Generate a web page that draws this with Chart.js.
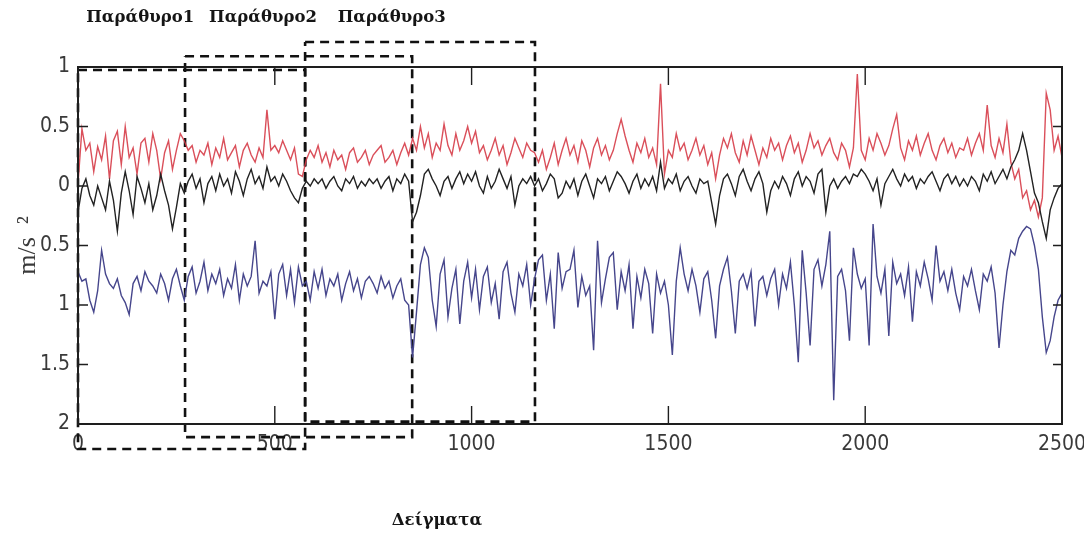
<!DOCTYPE html>
<html>
<head>
<meta charset="utf-8">
<script src="https://cdn.jsdelivr.net/npm/chart.js@4.4.1/dist/chart.umd.min.js"></script>
<style>
  html, body { margin: 0; padding: 0; background: #fff; }
  canvas { display: block; }
</style>
</head>
<body>
<canvas id="chart" width="1084" height="538"></canvas>
<script>
// one value every SAMPLE_STEP samples
const SAMPLE_STEP = 10
const X_TICKS = [0, 500, 1000, 1500, 2000, 2500]
const Y_TICKS = [1, 0.5, 0, -0.5, -1, -1.5, -2]

const RED = [
  0.02, 0.48, 0.30, 0.36, 0.12, 0.33, 0.22, 0.42, 0.06, 0.38, 0.46, 0.18, 0.50, 0.24, 0.32, 0.10, 0.36, 0.40, 0.20, 0.44, 0.30, 0.06, 0.28, 0.38, 0.14,
  0.30, 0.44, 0.38, 0.30, 0.34, 0.20, 0.30, 0.26, 0.36, 0.18, 0.32, 0.24, 0.40, 0.22, 0.28, 0.34, 0.16, 0.30, 0.36, 0.26, 0.20, 0.32, 0.24, 0.64, 0.30,
  0.34, 0.28, 0.38, 0.30, 0.22, 0.32, 0.10, 0.08, 0.22, 0.30, 0.24, 0.34, 0.20, 0.28, 0.16, 0.30, 0.22, 0.26, 0.14, 0.28, 0.32, 0.20, 0.24, 0.30, 0.18,
  0.26, 0.30, 0.34, 0.20, 0.24, 0.30, 0.18, 0.28, 0.36, 0.26, 0.40, 0.30, 0.50, 0.32, 0.44, 0.24, 0.36, 0.30, 0.52, 0.34, 0.26, 0.44, 0.30, 0.38, 0.50,
  0.36, 0.46, 0.28, 0.34, 0.22, 0.30, 0.40, 0.26, 0.34, 0.18, 0.28, 0.40, 0.32, 0.24, 0.36, 0.30, 0.28, 0.20, 0.30, 0.14, 0.24, 0.36, 0.18, 0.30, 0.40,
  0.26, 0.34, 0.20, 0.38, 0.30, 0.16, 0.32, 0.40, 0.26, 0.34, 0.22, 0.30, 0.44, 0.56, 0.42, 0.30, 0.20, 0.36, 0.28, 0.40, 0.24, 0.32, 0.18, 0.86, 0.10,
  0.30, 0.24, 0.44, 0.30, 0.36, 0.22, 0.30, 0.40, 0.26, 0.34, 0.18, 0.28, 0.06, 0.26, 0.40, 0.32, 0.44, 0.28, 0.20, 0.38, 0.26, 0.42, 0.30, 0.18, 0.32,
  0.24, 0.40, 0.30, 0.36, 0.22, 0.34, 0.42, 0.28, 0.36, 0.20, 0.30, 0.44, 0.32, 0.38, 0.26, 0.34, 0.40, 0.28, 0.22, 0.36, 0.30, 0.16, 0.32, 0.94, 0.30,
  0.22, 0.40, 0.30, 0.44, 0.36, 0.26, 0.34, 0.48, 0.60, 0.32, 0.22, 0.38, 0.30, 0.42, 0.26, 0.36, 0.44, 0.30, 0.22, 0.34, 0.40, 0.28, 0.36, 0.24, 0.32,
  0.30, 0.40, 0.26, 0.36, 0.44, 0.30, 0.68, 0.34, 0.24, 0.40, 0.28, 0.52, 0.20, 0.06, 0.14, -0.10, -0.04, -0.20, -0.12, -0.26, -0.10, 0.78, 0.64, 0.30, 0.42, 0.24
]

const BLACK = [
  -0.22, -0.02, 0.06, -0.08, -0.16, 0.00, -0.10, -0.20, 0.04, -0.12, -0.38, -0.06, 0.12, -0.04, -0.24, 0.08, -0.02, -0.14, 0.02, -0.20, -0.08, 0.10, -0.04, -0.16, -0.36,
  -0.18, 0.02, -0.06, 0.04, 0.10, -0.02, 0.06, -0.14, 0.02, 0.08, -0.04, 0.10, 0.00, 0.06, -0.06, 0.12, 0.04, -0.08, 0.06, 0.14, 0.02, 0.08, -0.02, 0.16, 0.04,
  0.08, 0.00, 0.10, 0.04, -0.04, -0.10, -0.14, -0.02, 0.04, 0.00, 0.06, 0.02, 0.06, -0.02, 0.04, 0.08, 0.00, -0.04, 0.06, 0.02, 0.08, -0.02, 0.04, 0.00, 0.06,
  0.02, 0.06, -0.02, 0.04, 0.08, -0.04, 0.06, 0.02, 0.10, 0.04, -0.30, -0.22, -0.08, 0.10, 0.14, 0.06, 0.00, -0.08, 0.04, 0.08, -0.02, 0.06, 0.12, 0.02, 0.10,
  0.04, 0.12, 0.00, -0.06, 0.08, -0.02, 0.04, 0.14, 0.06, -0.02, 0.08, -0.16, 0.00, 0.06, 0.02, 0.08, 0.00, 0.06, -0.04, 0.02, 0.10, 0.06, -0.10, -0.06, 0.04,
  -0.02, 0.06, -0.08, 0.04, 0.10, 0.00, -0.10, 0.06, 0.02, 0.08, -0.04, 0.04, 0.12, 0.08, 0.02, -0.06, 0.04, 0.10, -0.02, 0.06, 0.00, 0.08, -0.04, 0.20, -0.02,
  0.06, 0.02, 0.10, -0.04, 0.04, 0.08, 0.00, -0.06, 0.06, 0.02, 0.04, -0.14, -0.32, -0.08, 0.06, 0.10, 0.02, -0.08, 0.08, 0.14, 0.04, -0.04, 0.06, 0.12, 0.02,
  -0.22, -0.04, 0.04, -0.02, 0.08, 0.02, -0.08, 0.06, 0.12, 0.00, 0.08, 0.04, -0.06, 0.10, 0.14, -0.22, 0.00, 0.06, -0.02, 0.04, 0.08, 0.02, 0.10, 0.08, 0.14,
  0.10, 0.04, -0.04, 0.06, -0.16, 0.02, 0.08, 0.14, 0.06, 0.00, 0.10, 0.04, 0.08, -0.02, 0.06, 0.02, 0.08, 0.12, 0.04, -0.04, 0.06, 0.10, 0.02, 0.08, 0.00,
  0.06, 0.00, 0.08, 0.04, -0.04, 0.10, 0.04, 0.12, 0.02, 0.08, 0.14, 0.06, 0.16, 0.22, 0.30, 0.44, 0.30, 0.12, -0.06, -0.14, -0.30, -0.44, -0.20, -0.10, -0.02, 0.02
]

const BLUE = [
  -0.72, -0.80, -0.78, -0.96, -1.06, -0.88, -0.54, -0.74, -0.82, -0.86, -0.78, -0.92, -0.98, -1.08, -0.82, -0.76, -0.88, -0.72, -0.80, -0.84, -0.90, -0.74, -0.82, -0.96, -0.78,
  -0.70, -0.84, -0.96, -0.76, -0.68, -0.90, -0.80, -0.64, -0.88, -0.74, -0.82, -0.70, -0.92, -0.78, -0.86, -0.66, -0.96, -0.74, -0.84, -0.76, -0.46, -0.90, -0.80, -0.84, -0.72,
  -1.12, -0.74, -0.66, -0.92, -0.70, -0.98, -0.68, -0.84, -0.80, -0.96, -0.72, -0.86, -0.70, -0.92, -0.78, -0.84, -0.74, -0.96, -0.82, -0.72, -0.88, -0.78, -0.94, -0.80, -0.76,
  -0.82, -0.90, -0.76, -0.86, -0.80, -0.94, -0.84, -0.78, -0.96, -1.00, -1.44, -1.06, -0.66, -0.52, -0.60, -0.96, -1.18, -0.74, -0.62, -1.10, -0.86, -0.70, -1.16, -0.80, -0.64,
  -0.94, -0.70, -1.04, -0.76, -0.68, -0.98, -0.82, -1.12, -0.72, -0.64, -0.90, -1.06, -0.74, -0.84, -0.66, -1.00, -0.78, -0.62, -0.58, -0.96, -0.74, -1.20, -0.56, -0.86, -0.72,
  -0.70, -0.54, -1.02, -0.76, -0.92, -0.84, -1.38, -0.46, -0.98, -0.78, -0.60, -0.56, -1.04, -0.72, -0.88, -0.66, -1.20, -0.76, -0.94, -0.70, -0.82, -1.24, -0.74, -0.90, -0.80,
  -1.00, -1.42, -0.80, -0.52, -0.74, -0.88, -0.70, -0.84, -1.06, -0.78, -0.72, -0.96, -1.28, -0.84, -0.70, -0.60, -0.88, -1.24, -0.80, -0.74, -0.86, -0.72, -1.18, -0.80, -0.76,
  -0.92, -0.78, -0.70, -1.00, -0.74, -0.86, -0.64, -1.00, -1.48, -0.54, -0.90, -1.34, -0.70, -0.62, -0.84, -0.66, -0.38, -1.80, -0.76, -0.70, -0.88, -1.30, -0.52, -0.74, -0.86,
  -0.78, -1.34, -0.32, -0.76, -0.90, -0.70, -1.26, -0.64, -0.82, -0.74, -0.92, -0.68, -1.14, -0.72, -0.84, -0.64, -0.78, -0.96, -0.50, -0.80, -0.72, -0.88, -0.70, -0.90, -1.04,
  -0.76, -0.84, -0.70, -0.88, -1.04, -0.74, -0.80, -0.68, -0.90, -1.36, -1.00, -0.72, -0.54, -0.58, -0.44, -0.38, -0.34, -0.36, -0.50, -0.70, -1.10, -1.40, -1.30, -1.10, -0.96, -0.90
]

// analysis windows (in samples / m/s^2)
const WINDOW_LABELS = ['Παράθυρο1', 'Παράθυρο2', 'Παράθυρο3']
const WINDOW_LABEL_AT = [158, 470, 797]
const WINDOW_START = [0, 272, 577]
const WINDOW_END = [577, 849, 1161]
const WINDOW_TOP = [0.975, 1.09, 1.21]
const WINDOW_BOTTOM = [-2.21, -2.11, -1.98]

const X_TITLE = 'Δείγματα'
const X_TITLE_AT = 912
const Y_TITLE = 'm/s  ²'

const toPoints = arr => arr.map((v, i) => ({ x: i * SAMPLE_STEP, y: v }))

const signal = (data, color, width) => ({
  data: toPoints(data),
  borderColor: color,
  borderWidth: width,
  pointRadius: 0,
  tension: 0,
  fill: false
})

const windows = WINDOW_START.map((x0, i) => ({
  data: [
    { x: x0, y: WINDOW_TOP[i] },
    { x: WINDOW_END[i], y: WINDOW_TOP[i] },
    { x: WINDOW_END[i], y: WINDOW_BOTTOM[i] },
    { x: x0, y: WINDOW_BOTTOM[i] },
    { x: x0, y: WINDOW_TOP[i] }
  ],
  borderColor: '#111',
  borderWidth: 2.6,
  borderDash: [9, 6],
  pointRadius: 0,
  tension: 0,
  fill: false,
  clip: false
}))

const TICK_FONT = { family: "'Liberation Sans Narrow', 'DejaVu Sans Condensed', 'Liberation Sans', sans-serif", size: 21 }

// box round the plot, inward ticks, labels for the windows and x title
const framePlugin = {
  id: 'frame',
  afterDatasetsDraw(chart) {
    const { ctx, chartArea: a, scales: { x, y } } = chart
    ctx.save()
    ctx.strokeStyle = '#1e1e1e'
    ctx.lineWidth = 2
    ctx.strokeRect(a.left, a.top, a.right - a.left, a.bottom - a.top)
    ctx.lineWidth = 1.4
    ctx.beginPath()
    X_TICKS.forEach(v => {
      const px = x.getPixelForValue(v)
      ctx.moveTo(px, a.bottom); ctx.lineTo(px, a.bottom - 18)
      ctx.moveTo(px, a.top); ctx.lineTo(px, a.top + 18)
    })
    Y_TICKS.forEach(v => {
      const py = y.getPixelForValue(v)
      ctx.moveTo(a.left, py); ctx.lineTo(a.left + 10, py)
      ctx.moveTo(a.right, py); ctx.lineTo(a.right - 9, py)
    })
    ctx.stroke()

    ctx.fillStyle = '#151515'
    ctx.font = "bold 16.5px 'DejaVu Serif', serif"
    ctx.textAlign = 'center'
    ctx.textBaseline = 'middle'
    WINDOW_LABELS.forEach((t, i) => ctx.fillText(t, x.getPixelForValue(WINDOW_LABEL_AT[i]), 18))
    ctx.fillText(X_TITLE, x.getPixelForValue(X_TITLE_AT), 521)
    ctx.restore()
  }
}

new Chart(document.getElementById('chart'), {
  type: 'line',
  data: {
    datasets: [
      signal(BLUE, '#46468c', 1.4),
      signal(BLACK, '#222222', 1.4),
      signal(RED, 'rgba(214, 60, 72, 0.9)', 1.4),
      ...windows
    ]
  },
  options: {
    responsive: false,
    animation: false,
    devicePixelRatio: 1,
    layout: { padding: { top: 67, right: 22, left: 0, bottom: 0 } },
    plugins: { legend: { display: false }, tooltip: { enabled: false } },
    scales: {
      x: {
        type: 'linear',
        min: 0,
        max: 2500,
        afterBuildTicks: s => { s.ticks = X_TICKS.map(v => ({ value: v })) },
        afterFit: s => { s.height = 114; s.paddingLeft = 0; s.paddingRight = 0 },
        grid: { display: false, drawTicks: false },
        border: { display: false },
        ticks: { color: '#3a3a3a', font: TICK_FONT, padding: 8, maxRotation: 0, callback: v => String(v) }
      },
      y: {
        min: -2,
        max: 1,
        afterBuildTicks: s => { s.ticks = Y_TICKS.map(v => ({ value: v })) },
        afterFit: s => { s.width = 78; s.paddingTop = 0; s.paddingBottom = 0 },
        grid: { display: false, drawTicks: false },
        border: { display: false },
        ticks: { color: '#3a3a3a', font: TICK_FONT, padding: 8, callback: v => String(Math.abs(v)) },
        title: {
          display: true,
          text: Y_TITLE,
          color: '#3a3a3a',
          font: { family: "'Liberation Serif', serif", size: 26 },
          padding: { top: 13, bottom: 0 }
        }
      }
    }
  },
  plugins: [framePlugin]
})
</script>
</body>
</html>
